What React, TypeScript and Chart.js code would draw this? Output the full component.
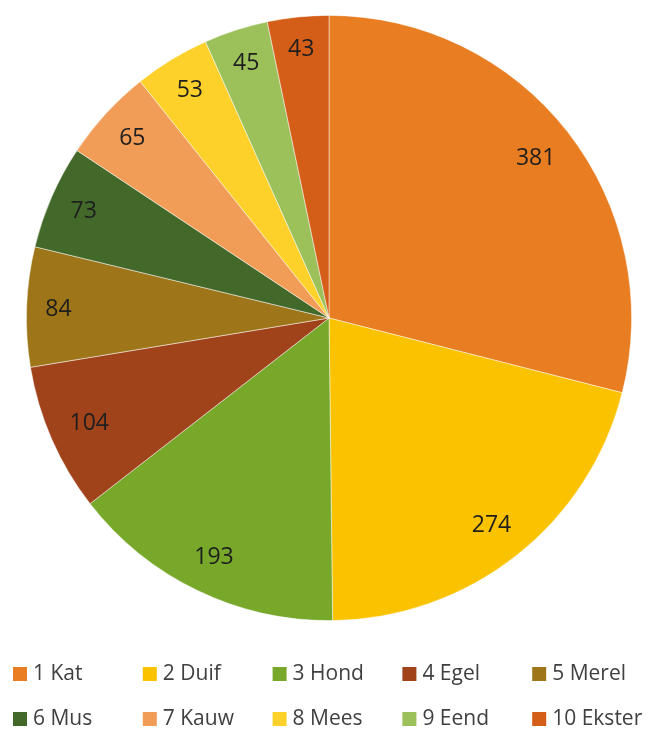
import React, { useEffect, useRef } from "react";
import { Chart, registerables } from "chart.js";

Chart.register(...registerables);

const categories = ["1 Kat", "2 Duif", "3 Hond", "4 Egel", "5 Merel", "6 Mus", "7 Kauw", "8 Mees", "9 Eend", "10 Ekster"];
const values = [381, 274, 193, 104, 84, 73, 65, 53, 45, 43];
const colors = ["#E97D22", "#FBC200", "#77A82A", "#A0431B", "#9E7619", "#43692A", "#F19C57", "#FED12A", "#9CC15A", "#D45D18"];

const FONT = '"Open Sans", "Liberation Sans", sans-serif';

const labelPlugin = {
  id: "sliceLabels",
  afterDatasetsDraw(chart: any) {
    const ctx = chart.ctx;
    const meta = chart.getDatasetMeta(0);
    ctx.save();
    ctx.font = `23px ${FONT}`;
    ctx.fillStyle = "#1E1E1E";
    ctx.textAlign = "center";
    ctx.textBaseline = "middle";
    meta.data.forEach((arc: any, i: number) => {
      const p = arc.getProps(["x", "y", "startAngle", "endAngle", "outerRadius"], true);
      const mid = (p.startAngle + p.endAngle) / 2;
      const c = Math.cos(mid);
      const s = Math.sin(mid);
      const text = String(values[i]);
      const w = ctx.measureText(text).width;
      const h = 24;
      const T = p.outerRadius - 18;
      const b = Math.abs(c) * w + Math.abs(s) * h;
      const C = (w * w + h * h) / 4 - T * T;
      const d = (-b + Math.sqrt(b * b - 4 * C)) / 2;
      ctx.fillText(text, p.x + c * d, p.y + s * d + 1);
    });
    ctx.restore();
  },
};

const legendPlugin = {
  id: "gridLegend",
  afterDraw(chart: any) {
    const ctx = chart.ctx;
    ctx.save();
    ctx.font = `21px ${FONT}`;
    ctx.textBaseline = "middle";
    ctx.textAlign = "left";
    categories.forEach((name, i) => {
      const col = i % 5;
      const row = Math.floor(i / 5);
      const x = 13 + col * 129.8;
      const y = 674 + row * 45;
      ctx.fillStyle = colors[i];
      ctx.fillRect(x, y - 7, 14, 14);
      ctx.fillStyle = "#404040";
      ctx.fillText(name, x + 20, y);
    });
    ctx.restore();
  },
};

export default function App() {
  const ref = useRef<HTMLCanvasElement>(null);
  useEffect(() => {
    if (!ref.current) return;
    const chart = new Chart(ref.current, {
      type: "pie",
      data: {
        labels: categories,
        datasets: [
          {
            data: values,
            backgroundColor: colors,
            borderColor: "rgba(255,255,255,0.6)",
            borderWidth: 0.8,
          },
        ],
      },
      options: {
        responsive: false,
        animation: false,
        layout: { padding: { left: 26, right: 21, top: 15, bottom: 108 } },
        plugins: {
          legend: { display: false },
          tooltip: { enabled: false },
        },
      },
      plugins: [labelPlugin, legendPlugin],
    });
    return () => chart.destroy();
  }, []);
  return (
    <div style={{ position: "absolute", left: 0, top: 0, width: 653, height: 729, background: "#fff" }}>
      <canvas ref={ref} width={653} height={729} style={{ display: "block" }} />
    </div>
  );
}
